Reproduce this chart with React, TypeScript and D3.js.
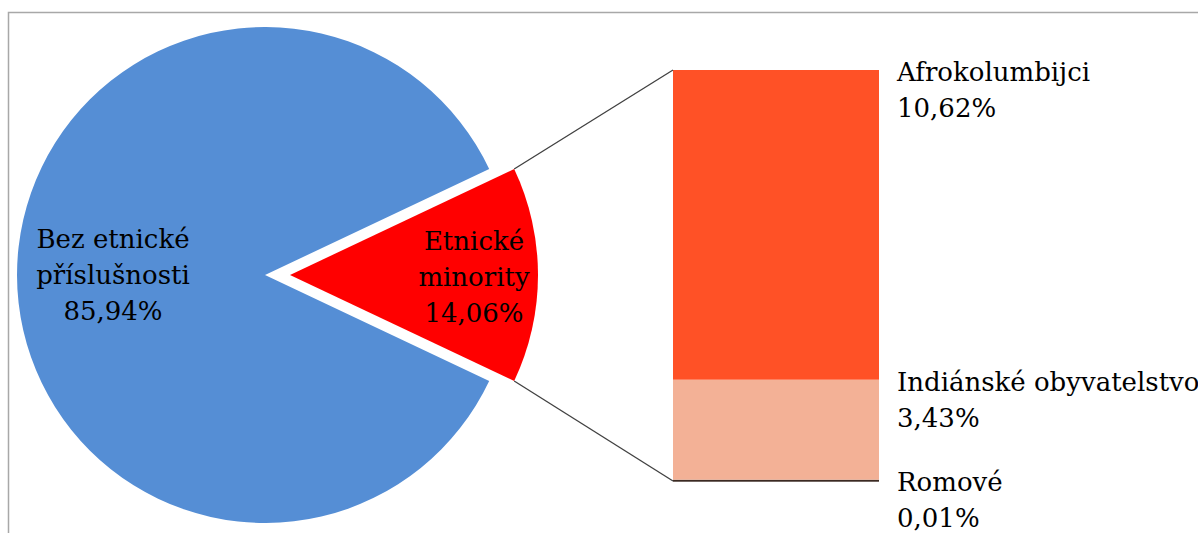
import { useEffect, useRef } from 'react';
import * as d3 from 'd3';

// pie: main split
const pieLabels = [['Etnické', 'minority'], ['Bez etnické', 'příslušnosti']];
const pieValues = [14.06, 85.94];
const pieColors = ['#FF0000', '#558ED5'];

// bar: breakdown of the minorities (bottom to top)
const barCategories = ['Romové', 'Indiánské obyvatelstvo', 'Afrokolumbijci'];
const barValues = [0.01, 3.43, 10.62];
const barColors = ['#3B2A22', '#F3B196', '#FF5126'];

const fmt = (v: number) => v.toFixed(2).replace('.', ',') + '%';

export default function App() {
  const ref = useRef<SVGSVGElement>(null);

  useEffect(() => {
    const svg = d3.select(ref.current);
    svg.selectAll('*').remove();

    const width = 1198;
    const height = 533;
    const font = '"DejaVu Serif", "Liberation Serif", serif';
    const fontSize = 26;
    const lineH = 36;

    // frame
    svg
      .append('rect')
      .attr('x', 8.5)
      .attr('y', 12.5)
      .attr('width', width + 20)
      .attr('height', height + 20)
      .attr('fill', 'none')
      .attr('stroke', '#A8A8A8')
      .attr('stroke-width', 1.5);

    const radius = 248;
    const cy = 275;
    const centers = [290, 265]; // red exploded to the right

    const redFrac = pieValues[0] / d3.sum(pieValues);
    const start = Math.PI / 2 - redFrac * Math.PI;
    const pieData = d3
      .pie<number>()
      .sort(null)
      .value((d) => d)
      .startAngle(start)
      .endAngle(start + 2 * Math.PI)(pieValues);

    const arc = d3.arc<d3.PieArcDatum<number>>().innerRadius(0).outerRadius(radius);

    pieData.forEach((d, i) => {
      const g = svg.append('g').attr('transform', `translate(${centers[i]},${cy})`);
      g.append('path').attr('d', arc(d)!).attr('fill', pieColors[i]);
    });

    // bar
    const barX = 673;
    const barW = 206;
    const y = d3.scaleLinear().domain([0, d3.sum(barValues)]).range([480, 70]);
    const cum = d3.cumsum(barValues);
    const barG = svg.append('g');
    barValues.forEach((v, i) => {
      const y0 = y(cum[i] - v);
      const y1 = y(cum[i]);
      barG
        .append('rect')
        .attr('x', barX)
        .attr('y', y1)
        .attr('width', barW)
        .attr('height', Math.max(y0 - y1, 2))
        .attr('fill', barColors[i]);
    });

    // connector lines
    const red = pieData[0];
    const pt = (a: number) => [centers[0] + radius * Math.sin(a), cy - radius * Math.cos(a)];
    const [ux, uy] = pt(red.startAngle);
    const [lx, ly] = pt(red.endAngle);
    svg
      .append('line')
      .attr('x1', ux)
      .attr('y1', uy)
      .attr('x2', barX)
      .attr('y2', y(d3.sum(barValues)))
      .attr('stroke', '#404040')
      .attr('stroke-width', 1.3);
    svg
      .append('line')
      .attr('x1', lx)
      .attr('y1', ly)
      .attr('x2', barX)
      .attr('y2', y(0) + 1)
      .attr('stroke', '#404040')
      .attr('stroke-width', 1.3);

    // pie labels
    const labelPos = [
      [centers[0] + 184, cy + 11],
      [centers[1] - 152, cy + 9],
    ];
    pieData.forEach((d, i) => {
      const lines = [...pieLabels[i], fmt(d.data)];
      const t = svg
        .append('text')
        .attr('text-anchor', 'middle')
        .attr('font-family', font)
        .attr('font-size', fontSize)
        .attr('fill', '#000');
      lines.forEach((s, j) => {
        t.append('tspan')
          .attr('x', labelPos[i][0])
          .attr('y', labelPos[i][1] + (j - 1) * lineH)
          .text(s);
      });
    });

    // bar labels
    barValues.forEach((v, i) => {
      const top = y(cum[i]);
      const t = svg
        .append('text')
        .attr('font-family', font)
        .attr('font-size', fontSize)
        .attr('fill', '#000');
      [barCategories[i], fmt(v)].forEach((s, j) => {
        t.append('tspan')
          .attr('x', 897)
          .attr('y', top + 11 + j * lineH)
          .text(s);
      });
    });
  }, []);

  return (
    <svg
      ref={ref}
      width={1198}
      height={533}
      style={{ position: 'absolute', left: 0, top: 0, background: '#fff' }}
    />
  );
}
